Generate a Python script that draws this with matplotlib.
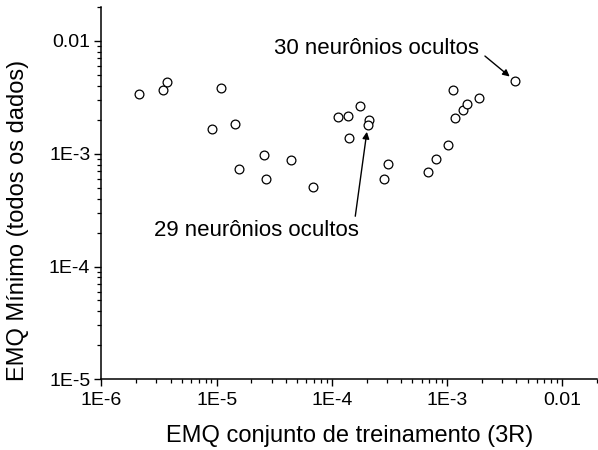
import matplotlib
matplotlib.use("Agg")
import matplotlib.pyplot as plt
from matplotlib.ticker import FixedLocator, FixedFormatter, LogLocator, NullFormatter

plt.rcParams['font.family'] = ['Liberation Sans', 'DejaVu Sans']

# data
emq_treino = [2.12e-6, 3.43e-6, 3.72e-6, 1.10e-5, 9.17e-6, 1.45e-5, 1.57e-5, 2.60e-5,
              2.70e-5, 4.46e-5, 6.79e-5, 1.12e-4, 1.37e-4, 1.40e-4, 1.74e-4, 2.09e-4,
              2.05e-4, 2.82e-4, 3.05e-4, 6.81e-4, 8.00e-4, 1.02e-3, 1.12e-3, 1.17e-3,
              1.37e-3, 1.49e-3, 1.89e-3, 3.89e-3]
emq_minimo = [3.39e-3, 3.68e-3, 4.34e-3, 3.83e-3, 1.66e-3, 1.84e-3, 7.33e-4, 9.76e-4,
              5.98e-4, 8.81e-4, 5.08e-4, 2.12e-3, 2.16e-3, 1.38e-3, 2.65e-3, 2.00e-3,
              1.80e-3, 5.98e-4, 8.13e-4, 6.90e-4, 9.00e-4, 1.20e-3, 3.68e-3, 2.07e-3,
              2.44e-3, 2.76e-3, 3.13e-3, 4.42e-3]

x_ticks = [1e-6, 1e-5, 1e-4, 1e-3, 1e-2]
x_ticklabels = ["1E-6", "1E-5", "1E-4", "1E-3", "0.01"]
y_ticks = [1e-5, 1e-4, 1e-3, 1e-2]
y_ticklabels = ["1E-5", "1E-4", "1E-3", "0.01"]

ann29_text = "29 neurônios ocultos"
ann29_xy = (2.05e-4, 1.80e-3)
ann29_textxy = (2.21e-5, 2.07e-4)
ann30_text = "30 neurônios ocultos"
ann30_xy = (3.89e-3, 4.42e-3)
ann30_textxy = (1.89e-3, 8.49e-3)

fig = plt.figure(figsize=(5.98, 4.5), dpi=100)
ax = fig.add_axes([0.1697, 0.1571, 0.9983 - 0.1697, 0.9844 - 0.1571])

ax.scatter(emq_treino, emq_minimo, s=40, facecolors='white', edgecolors='black',
           linewidths=0.9, zorder=3)

ax.set_xscale('log')
ax.set_yscale('log')
ax.set_xlim(1e-6, 2e-2)
ax.set_ylim(1e-5, 2e-2)

ax.xaxis.set_major_locator(FixedLocator(x_ticks))
ax.xaxis.set_major_formatter(FixedFormatter(x_ticklabels))
ax.yaxis.set_major_locator(FixedLocator(y_ticks))
ax.yaxis.set_major_formatter(FixedFormatter(y_ticklabels))
ax.xaxis.set_minor_locator(LogLocator(base=10, subs=range(2, 10), numticks=20))
ax.yaxis.set_minor_locator(LogLocator(base=10, subs=range(2, 10), numticks=20))
ax.xaxis.set_minor_formatter(NullFormatter())
ax.yaxis.set_minor_formatter(NullFormatter())

for s in ['top', 'right']:
    ax.spines[s].set_visible(False)
for s in ['left', 'bottom']:
    ax.spines[s].set_linewidth(1.1)

ax.tick_params(which='major', direction='out', length=5, width=1.0, labelsize=14)
ax.tick_params(axis='x', which='major', pad=4)
ax.tick_params(axis='y', which='major', pad=3)
ax.tick_params(which='minor', direction='out', length=2.8, width=0.9)

ax.set_xlabel("EMQ conjunto de treinamento (3R)", fontsize=17, labelpad=12)
ax.set_ylabel("EMQ Mínimo (todos os dados)", fontsize=17)
ax.yaxis.set_label_coords(-0.146, 0.428)

ax.annotate(ann29_text, xy=ann29_xy, xytext=ann29_textxy, fontsize=16,
            ha='center', va='center',
            arrowprops=dict(arrowstyle='-|>', color='black', lw=1.0,
                            mutation_scale=10, shrinkA=1, shrinkB=5,
                            relpos=(0.98, 1.0)))
ax.annotate(ann30_text, xy=ann30_xy, xytext=ann30_textxy, fontsize=16,
            ha='right', va='center',
            arrowprops=dict(arrowstyle='-|>', color='black', lw=1.0,
                            mutation_scale=10, shrinkA=3, shrinkB=5,
                            relpos=(1.0, 0.4)))

fig.savefig("out.png", dpi=100)
